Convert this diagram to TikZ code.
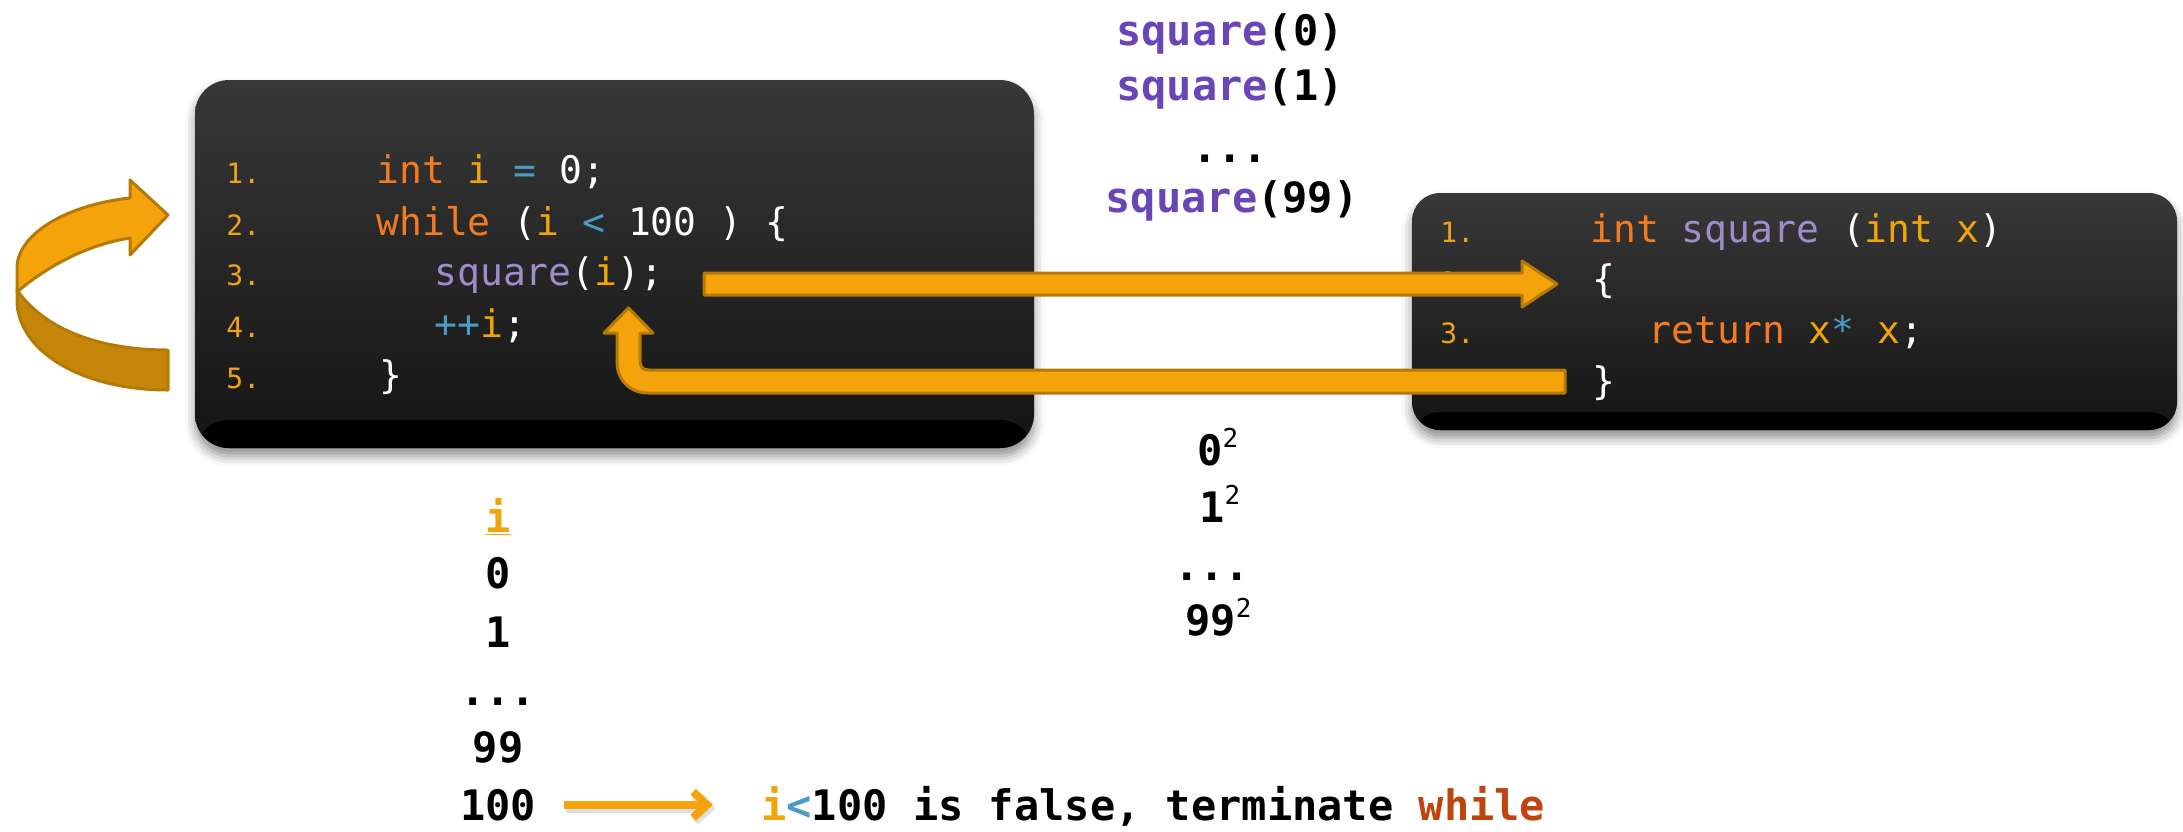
\documentclass[tikz,border=0pt]{standalone}
\usepackage{fontspec}
\setmonofont{DejaVu Sans Mono}
\usetikzlibrary{shadows.blur,arrows.meta}
\definecolor{cnum}{HTML}{EFA21C}
\definecolor{ckw}{HTML}{F47B20}
\definecolor{cvar}{HTML}{F2A40B}
\definecolor{cop}{HTML}{4A9BC5}
\definecolor{cfn}{HTML}{9F8DCB}
\definecolor{ofn}{HTML}{6A45B5}
\definecolor{owhile}{HTML}{C0440E}
\definecolor{afill}{HTML}{F4A30B}
\definecolor{adark}{HTML}{C6860A}
\definecolor{aborder}{HTML}{B57906}
\definecolor{btop}{HTML}{383838}
\definecolor{bbot}{HTML}{141414}
\newcommand\kw[1]{\textcolor{ckw}{#1}}
\newcommand\vr[1]{\textcolor{cvar}{#1}}
\newcommand\op[1]{\textcolor{cop}{#1}}
\newcommand\fn[1]{\textcolor{cfn}{#1}}
\newcommand\wt[1]{\textcolor{white}{#1}}
\newcommand\sqtwo{\raisebox{0.42em}{\mdseries\fontsize{13}{13}\selectfont 2}}
\tikzset{
  codebox/.style={top color=btop, bottom color=bbot, inner sep=0pt,
    blur shadow={shadow xshift=0pt, shadow yshift=-4pt, shadow blur radius=5pt, shadow opacity=45},
    path picture={\fill[black] (path picture bounding box.south west) rectangle ([yshift=#1]path picture bounding box.south east);}},
  code/.style={font=\ttfamily\fontsize{19}{19}\selectfont, anchor=base west, inner sep=0pt, text=white},
  lnum/.style={font=\ttfamily\fontsize{14}{14}\selectfont, anchor=base west, inner sep=0pt, text=cnum},
  outt/.style={font=\ttfamily\bfseries\fontsize{21}{21}\selectfont, anchor=base, inner sep=0pt, text=black},
  outw/.style={outt, anchor=base west},
  bigarrow/.style={fill=afill, draw=aborder, line width=1.5pt, line join=round},
  barrow/.style={draw=afill, line width=4pt, -{Straight Barb[length=7pt,width=13pt,line width=4pt]}}
}
\begin{document}
\begin{tikzpicture}[x=0.5pt,y=-0.5pt]
\useasboundingbox (0,0) rectangle (2183,831);

% code boxes
\node[codebox=14pt, rounded corners=17pt, minimum width=419.5pt, minimum height=184pt] (lbox) at (614.5,264) {};
\node[codebox=9pt, rounded corners=14pt, minimum width=382.5pt, minimum height=118.5pt] (rbox) at (1794.5,311.5) {};

% left code
\node[lnum] (ln1) at (226,183) {1.};
\node[lnum] (ln2) at (226,235) {2.};
\node[lnum] (ln3) at (226,285) {3.};
\node[lnum] (ln4) at (226,337) {4.};
\node[lnum] (ln5) at (226,388) {5.};
\node[code] (l1) at (376,183) {\kw{int} \vr{i} \op{=} 0;};
\node[code] (l2) at (376,235) {\kw{while} (\vr{i} \op{<} 100 ) \{};
\node[code] (l3) at (434,285) {\fn{square}(\vr{i});};
\node[code] (l4) at (434,337) {\op{++}\vr{i};};
\node[code] (l5) at (379,388) {\}};

% right code
\node[lnum] (rn1) at (1440,242) {1.};
\node[lnum] (rn2) at (1440,292) {2.};
\node[lnum] (rn3) at (1440,343) {3.};
\node[lnum] (rn4) at (1440,394) {4.};
\node[code] (r1) at (1590,242) {\kw{int} \fn{square} (\vr{int x})};
\node[code] (r2) at (1592,292) {\{};
\node[code] (r3) at (1648,343) {\kw{return} \vr{x}\op{*} \vr{x};};
\node[code] (r4) at (1592,394) {\}};

% forward arrow
\coordinate (fa) at (704,284);
\coordinate (fb) at (1557,284);
\path[bigarrow] ($(fa)$) ++(0,-11) -- (1522,273) -- (1522,261) -- (fb) -- (1522,307) -- (1522,295) -- (704,295) -- cycle;

% return arrow
\coordinate (ra) at (1565,381.5);
\coordinate (rb) at (628.5,308);
\path[bigarrow] (1565,370) -- (649,370) .. controls (643,370) and (640,367) .. (640,361) -- (640,333) -- (653,333) -- (rb) -- (604,333) -- (617,333) -- (617,362) .. controls (617,380) and (630,393) .. (648,393) -- (1565,393) -- cycle;

% loop arrow at left
\path[fill=adark, draw=aborder, line width=1.5pt, line join=round]
  (17,290) .. controls (45,330) and (100,350) .. (168,350) -- (168,390)
  .. controls (80,390) and (17,350) .. (17,300) -- cycle;
\path[fill=afill, draw=aborder, line width=1.5pt, line join=round]
  (130,238) -- (130,255) -- (168,215) -- (130,180) -- (130,198)
  .. controls (65,205) and (17,235) .. (17,268) -- (17,292)
  .. controls (45,268) and (85,245) .. (130,238) -- cycle;

% top labels
\node[outt] (s0) at (1230,45) {\textcolor{ofn}{square}(0)};
\node[outt] (s1) at (1230,100) {\textcolor{ofn}{square}(1)};
\node[outt] (sd) at (1230,162) {...};
\node[outt] (s99) at (1232,212) {\textcolor{ofn}{square}(99)};

% results
\node[outw] (q0) at (1197,465) {0\sqtwo};
\node[outw] (q1) at (1199,522) {1\sqtwo};
\node[outt] (qd) at (1212,580) {...};
\node[outw] (q99) at (1185,635) {99\sqtwo};

% i column
\node[outt, text=cvar] (ci) at (498,532) {\underline{i}};
\node[outt] (c0) at (498,588) {0};
\node[outt] (c1) at (498,647) {1};
\node[outt] (cd) at (498,705) {...};
\node[outt] (c99) at (498,762) {99};
\node[outt] (c100) at (498,820) {100};
\node[outw] (msg) at (761,820) {\textcolor{cvar}{i}\textcolor{cop}{<}100 is false, terminate \textcolor{owhile}{while}};

% bottom arrow
\draw[barrow, draw=black!25, opacity=0.5, shorten <=14pt, shorten >=24pt, transform canvas={xshift=1pt,yshift=-2pt}] (c100.east) -- (c100.east -| msg.west);
\draw[barrow, shorten <=14pt, shorten >=24pt] (c100.east) -- (c100.east -| msg.west);
\end{tikzpicture}
\end{document}
